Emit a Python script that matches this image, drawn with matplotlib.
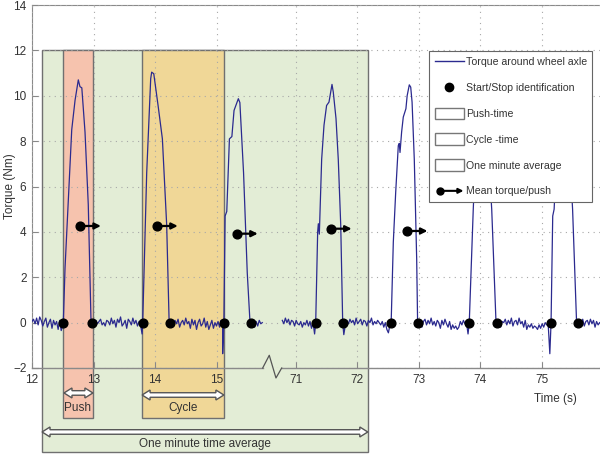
import matplotlib.pyplot as plt
import numpy as np
from matplotlib.patches import Rectangle, Polygon, Patch, FancyArrowPatch
from matplotlib.lines import Line2D
from matplotlib.legend_handler import HandlerBase

plt.rcParams['font.family'] = ['Liberation Sans', 'DejaVu Sans']

OFFSET = 54.71   # the 70 s block is shifted left to sit after the axis break
dt = 0.025       # sample step of the noise pieces

def ax_x(t):
    t = np.asarray(t, dtype=float)
    return np.where(t > 50, t - OFFSET, t)

# --- torque signal (Nm), real time in s ---
noise_start = [12.0, 12.99, 14.25, 15.57, 70.78, 71.78, 73.0, 74.28, 75.59]
noise_vals = [
    [0.05, 0.15, -0.05, 0.2, -0.1, 0.25, 0.1, -0.15, 0.05, 0.2, -0.2, 0.0,
     0.15, -0.25, 0.1, -0.1, 0.05, -0.3, 0.1, -0.35],
    [0.0, -0.1, 0.1, -0.05, 0.05, 0.15, -0.1, 0.0, -0.15, 0.1, 0.05, -0.1,
     0.2, -0.05, 0.1, -0.2, 0.15, 0.0, 0.25, -0.15, -0.05, 0.1, -0.25, 0.15,
     0.05, -0.1, 0.2, -0.05, 0.1, -0.15, 0.05, -0.1, -0.5],
    [-0.1, 0.05, -0.15, 0.1, -0.05, 0.15, -0.2, 0.0, 0.1, -0.1, 0.2, -0.05,
     0.05, -0.25, 0.15, -0.1, 0.1, -0.3, 0.0, 0.15, -0.15, -0.05, 0.2, -0.2,
     0.05, -0.3, -0.1, 0.1, -0.25, 0.0, -0.15, 0.05, -0.2, 0.1, -0.1],
    [-0.1, 0.1, -0.2, 0.05, -0.15, 0.1, -0.05, 0.0],
    [0.1, -0.05, 0.2, 0.0, 0.15, -0.1, 0.1, 0.05, -0.15, 0.1, -0.05, -0.1,
     0.05, -0.2, 0.0, -0.1, 0.1, -0.15, 0.05, -0.25, 0.0, -0.5],
    [-0.53, -0.1, 0.1, -0.05, 0.15, 0.0, 0.1, -0.1, 0.2, -0.05, 0.05, 0.15,
     -0.1, 0.1, 0.05, -0.15, 0.1, 0.0, 0.2, -0.1, 0.05, -0.05, 0.1, 0.0,
     -0.1, 0.05, -0.2, 0.0, -0.3, -0.45, -0.1],
    [-0.05, 0.1, -0.2, 0.05, 0.15, -0.1, 0.1, -0.05, 0.2, -0.1, 0.05, -0.15,
     0.1, 0.0, -0.25, 0.1, -0.1, 0.15, -0.05, -0.2, 0.05, -0.3, -0.1, -0.25,
     -0.15, -0.3, -0.2, 0.05, -0.1, 0.1, -0.05, 0.0, -0.5],
    [-0.15, 0.1, -0.2, 0.05, 0.0, 0.15, -0.1, 0.1, -0.05, 0.2, -0.15, 0.05,
     0.1, -0.1, 0.2, -0.05, 0.05, -0.2, 0.1, -0.3, -0.1, -0.2, -0.05, -0.25,
     -0.15, -0.2, -0.3, -0.1, -0.25, -0.05, -0.2, 0.0, -0.1, -0.15],
    [-0.1, 0.1, -0.05, 0.15, -0.15, 0.05, 0.1, -0.1, 0.15, -0.05, 0.1, -0.2,
     0.05, -0.1, 0.0],
]

push_t = [
    [12.509, 12.537, 12.646, 12.70, 12.753, 12.78, 12.81, 12.862, 12.915, 12.96],
    [13.80, 13.865, 13.93, 13.946, 13.98, 14.05, 14.12, 14.19, 14.23],
    [15.10, 15.12, 15.14, 15.167, 15.21, 15.25, 15.285, 15.355, 15.38, 15.44, 15.50, 15.545],
    [71.323, 71.355, 71.366, 71.382, 71.404, 71.42, 71.458, 71.50, 71.539,
     71.567, 71.588, 71.609, 71.653, 71.69, 71.73, 71.762],
    [72.55, 72.585, 72.624, 72.666, 72.682, 72.694, 72.72, 72.747, 72.79,
     72.81, 72.845, 72.868, 72.89, 72.926, 72.965, 72.98],
    [73.82, 73.885, 73.93, 73.98, 74.03, 74.08, 74.13, 74.185, 74.255],
    [75.13, 75.15, 75.177, 75.20, 75.25, 75.30, 75.36, 75.42, 75.50, 75.565],
]
push_v = [
    [0.0, 2.4, 8.5, 9.8, 10.7, 10.4, 10.35, 8.4, 5.2, 0.0],
    [0.0, 6.6, 10.75, 11.04, 10.97, 9.57, 8.1, 4.3, 0.0],
    [-1.37, 0.0, 4.7, 4.9, 8.1, 8.2, 9.35, 9.87, 9.7, 6.6, 2.2, 0.0],
    [0.0, 4.0, 4.36, 3.9, 5.76, 7.2, 8.7, 9.57, 9.72, 10.16, 10.5, 10.16,
     9.0, 7.2, 4.3, 0.0],
    [0.0, 3.55, 5.76, 7.8, 7.9, 7.5, 8.4, 9.06, 9.43, 10.0, 10.48, 10.38,
     9.72, 7.2, 2.8, 0.0],
    [0.0, 5.0, 8.0, 9.8, 10.2, 9.5, 7.5, 5.0, 0.0],
    [-1.37, 0.0, 4.7, 5.0, 8.0, 9.5, 10.0, 9.0, 5.0, 0.0],
]

start_t = [12.509, 13.80, 15.12, 71.323, 72.55, 73.82, 75.15]
stop_t = [12.97, 14.24, 15.555, 71.77, 72.99, 74.27, 75.58]

mean_t = [12.78, 14.03, 15.33, 71.567, 72.80]
mean_v = [4.26, 4.26, 3.92, 4.14, 4.04]

push_span = (12.504, 12.99)
cycle_span = (13.79, 15.12)
minute_span = (12.163, 72.17)

xtick_vals = [12, 13, 14, 15, 71, 72, 73, 74, 75]

navy = '#2b2a8f'
edge = '#707070'

# assemble the signal
pieces = []
for i in range(len(noise_start)):
    pieces.append((noise_start[i] + dt * np.arange(len(noise_vals[i])), np.array(noise_vals[i])))
for i in range(len(push_t)):
    pieces.append((np.array(push_t[i]), np.array(push_v[i])))
t_all = np.concatenate([p[0] for p in pieces])
v_all = np.concatenate([p[1] for p in pieces])
order = np.argsort(t_all)
t_all, v_all = t_all[order], v_all[order]

fig = plt.figure(figsize=(6, 4.54), dpi=100)
ax = fig.add_axes([32 / 600, 86 / 454, 568 / 600, 363 / 454])
ax.set_xlim(12, 12 + 568 / 61.5)
ax.set_ylim(-2, 14)

# shaded regions
ax.add_patch(Rectangle((ax_x(minute_span[0]), -5.7), ax_x(minute_span[1]) - ax_x(minute_span[0]), 17.7,
                       fc='#e3edd6', ec=edge, lw=1, clip_on=False, zorder=0.5))
ax.add_patch(Rectangle((push_span[0], -4.2), push_span[1] - push_span[0], 16.2,
                       fc='#f6c3ae', ec=edge, lw=1, clip_on=False, zorder=0.6))
ax.add_patch(Rectangle((cycle_span[0], -4.2), cycle_span[1] - cycle_span[0], 16.2,
                       fc='#f0d797', ec=edge, lw=1, clip_on=False, zorder=0.6))

for blk in (t_all < 50, t_all > 50):
    ax.plot(ax_x(t_all[blk]), v_all[blk], color=navy, lw=0.9, zorder=3)

ax.plot(ax_x(start_t + stop_t), np.zeros(len(start_t) * 2), 'o', color='black', ms=6.3, zorder=4)

for x, v in zip(ax_x(mean_t), mean_v):
    ax.annotate('', xy=(x + 0.34, v), xytext=(x, v),
                arrowprops=dict(arrowstyle='-|>', color='black', lw=1.6,
                                mutation_scale=9, shrinkA=0, shrinkB=0), zorder=4)
    ax.plot([x], [v], 'o', color='black', ms=6.3, zorder=4)

# axes styling
ax.set_xticks(ax_x(xtick_vals))
ax.set_xticklabels([str(v) for v in xtick_vals])
ax.set_yticks(np.arange(-2, 15, 2))
ax.tick_params(direction='in', length=4, color='#888', labelsize=8.5, labelcolor='#333', pad=4)
ax.grid(True, linestyle=(0, (1, 4)), color='#a8a8a8', lw=0.8)
ax.set_axisbelow(False)
for s in ('right', 'bottom'):
    ax.spines[s].set_visible(False)
for s in ('left', 'top'):
    ax.spines[s].set_color('#8a8a8a')
ax.set_ylabel('Torque (Nm)', fontsize=8.5, color='#333')
ax.yaxis.set_label_coords(-0.028, 0.5)

# x axis line with break
ax.plot([12, 15.751], [-2, -2], color='#8a8a8a', lw=1, clip_on=False, zorder=2)
ax.plot([16.06, 12 + 568 / 61.5], [-2, -2], color='#8a8a8a', lw=1, clip_on=False, zorder=2)
ax.plot([15.751, 15.858, 15.967, 16.06], [-2, -1.44, -2.44, -2], color='#555', lw=0.9,
        clip_on=False, zorder=2)

def double_arrow(x0, x1, y, hw=0.22, sw=0.1, hl=0.13):
    pts = [(x0, y), (x0 + hl, y + hw), (x0 + hl, y + sw), (x1 - hl, y + sw), (x1 - hl, y + hw),
           (x1, y), (x1 - hl, y - hw), (x1 - hl, y - sw), (x0 + hl, y - sw), (x0 + hl, y - hw)]
    ax.add_patch(Polygon(pts, closed=True, fc='white', ec='#555', lw=1, clip_on=False, zorder=5))

double_arrow(12.52, push_span[1], -3.1)
double_arrow(cycle_span[0], cycle_span[1], -3.19)
double_arrow(ax_x(minute_span[0]), ax_x(minute_span[1]), -4.82)
ax.text(np.mean(push_span), -3.78, 'Push', ha='center', va='center', fontsize=8.5, color='#333')
ax.text(np.mean(cycle_span), -3.78, 'Cycle', ha='center', va='center', fontsize=8.5, color='#333')
ax.text(np.mean(ax_x(minute_span)), -5.35, 'One minute time average', ha='center', va='center',
        fontsize=8.5, color='#333')
fig.text(555 / 600, 1 - 399 / 454, 'Time (s)', ha='center', va='center', fontsize=8.5, color='#333')

# legend
class MeanArrow:
    pass

class HandlerMeanArrow(HandlerBase):
    def create_artists(self, legend, orig_handle, xdescent, ydescent, width, height, fontsize, trans):
        y = height / 2 - ydescent
        x0 = -xdescent + 0.2 * width
        x1 = -xdescent + width
        arr = FancyArrowPatch((x0, y), (x1, y), arrowstyle='-|>', mutation_scale=7, lw=1.5,
                              color='black', shrinkA=0, shrinkB=0, transform=trans)
        dot = Line2D([x0], [y], marker='o', ms=5, color='black', transform=trans)
        return [arr, dot]

handles = [Line2D([], [], color=navy, lw=1),
           Line2D([], [], ls='none', marker='o', color='black', ms=6),
           Patch(fc='white', ec='#777'), Patch(fc='white', ec='#777'), Patch(fc='white', ec='#777'),
           MeanArrow()]
labels = ['Torque around wheel axle', 'Start/Stop identification', 'Push-time',
          'Cycle -time', 'One minute average', 'Mean torque/push']
leg = ax.legend(handles, labels, handler_map={MeanArrow: HandlerMeanArrow()},
                loc='upper right', bbox_to_anchor=(0.986, 0.874), borderaxespad=0,
                fontsize=7.6, fancybox=False, edgecolor='#666', framealpha=1,
                labelspacing=1.32, handlelength=2.75, handleheight=1.35,
                handletextpad=0.2, borderpad=0.5)
leg.get_frame().set_linewidth(0.8)
for txt in leg.get_texts():
    txt.set_color('#333')

fig.savefig('out.png', dpi=100)
